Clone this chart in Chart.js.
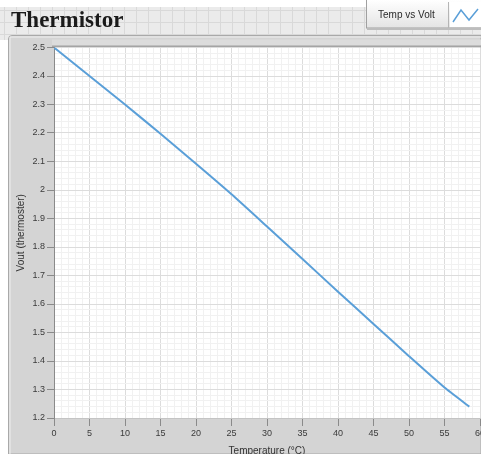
<!DOCTYPE html>
<html>
<head>
<meta charset="utf-8">
<script src="https://cdn.jsdelivr.net/npm/chart.js@4"></script>
<style>
  html, body { margin: 0; padding: 0; background: #ffffff; }
  #wrap { width: 481px; height: 454px; position: relative; }
</style>
</head>
<body>
<div id="wrap"><canvas id="thermistor"></canvas></div>
<script>
"use strict";

// values
var temperatures = [0, 5, 10, 15, 20, 25, 30, 35, 40, 45, 50, 55, 58.5];
var vout = [2.50, 2.40, 2.30, 2.197, 2.092, 1.985, 1.872, 1.758, 1.643, 1.53, 1.417, 1.307, 1.24];
var seriesName = "Temp vs Volt";
var chartTitle = "Thermistor";
var xTitle = "Temperature (\u00B0C)";
var yTitle = "Vout (thermoster)";

var points = [];
for (var i = 0; i < temperatures.length; i++) {
    points.push({ x: temperatures[i], y: vout[i] });
}

function isMajorX(v) { return Math.round(v) % 5 === 0; }
function isMajorY(v) { return Math.round(v * 50) % 5 === 0; }

// gray LabVIEW style panel + legend tab
var panelPlugin = {
    id: 'panel',
    beforeDraw: function (chart) {
        var ctx = chart.ctx;
        var w = chart.width, h = chart.height;
        var a = chart.chartArea;
        ctx.save();
        ctx.fillStyle = '#ffffff';
        ctx.fillRect(0, 0, w, h);
        // front panel grid
        ctx.fillStyle = '#ebebeb';
        ctx.fillRect(0, 7, w, 33);
        ctx.strokeStyle = '#d9d9d9';
        ctx.lineWidth = 1;
        for (var x = 4.5; x < w; x += 12) {
            ctx.beginPath(); ctx.moveTo(x, 7); ctx.lineTo(x, 40); ctx.stroke();
        }
        for (var y = 10.5; y < 40; y += 12) {
            ctx.beginPath(); ctx.moveTo(0, y); ctx.lineTo(w, y); ctx.stroke();
        }
        // panel
        ctx.fillStyle = '#d4d4d4';
        ctx.strokeStyle = '#a9a9a9';
        ctx.beginPath();
        ctx.moveTo(8.5, h);
        ctx.lineTo(8.5, 39);
        ctx.quadraticCurveTo(8.5, 35.5, 12, 35.5);
        ctx.lineTo(w, 35.5);
        ctx.lineTo(w, h);
        ctx.closePath();
        ctx.fill();
        ctx.stroke();
        ctx.strokeStyle = '#eeeeee';
        ctx.beginPath(); ctx.moveTo(10, h); ctx.lineTo(10, 37); ctx.lineTo(w, 37); ctx.stroke();
        // frame above plot
        ctx.fillStyle = '#dcdcdc';
        ctx.fillRect(a.left - 2, a.top - 8, w - a.left + 2, 6);
        ctx.fillStyle = '#a4a4a4';
        ctx.fillRect(a.left - 2, a.top - 2, w - a.left + 2, 2);
        // plot background
        ctx.fillStyle = '#ffffff';
        ctx.fillRect(a.left, a.top, a.right - a.left, a.bottom - a.top);

        // legend tab
        var tx = 366, ty = 0, tw = w - 366, th = 28;
        var g = ctx.createLinearGradient(0, ty, 0, ty + th);
        g.addColorStop(0, '#ffffff');
        g.addColorStop(1, '#e4e4e4');
        ctx.fillStyle = g;
        ctx.fillRect(tx, ty, tw, th);
        ctx.strokeStyle = '#a0a0a0';
        ctx.strokeRect(tx + 0.5, ty - 1, tw, th + 1);
        ctx.fillStyle = '#bdbdbd';
        ctx.fillRect(tx + 1, ty + th, tw, 2);
        ctx.strokeStyle = '#b5b5b5';
        ctx.beginPath(); ctx.moveTo(448.5, 2); ctx.lineTo(448.5, th); ctx.stroke();
        ctx.fillStyle = '#ffffff';
        ctx.fillRect(450, 2, w - 450, th - 3);
        ctx.fillStyle = '#2a2a2a';
        ctx.font = '10px "Liberation Sans", Arial, sans-serif';
        ctx.textBaseline = 'middle';
        ctx.fillText(seriesName, 378, 15);
        ctx.strokeStyle = '#5a9fd8';
        ctx.lineWidth = 1.5;
        ctx.beginPath();
        ctx.moveTo(453, 22); ctx.lineTo(461, 10); ctx.lineTo(469, 20); ctx.lineTo(478, 9);
        ctx.stroke();
        ctx.restore();
    }
};

new Chart(document.getElementById("thermistor").getContext("2d"), {
    type: 'line',
    data: {
        datasets: [{
            label: seriesName,
            data: points,
            borderColor: '#5a9fd8',
            borderWidth: 2,
            pointRadius: 0,
            fill: false,
            tension: 0.2
        }]
    },
    options: {
        responsive: true,
        maintainAspectRatio: false,
        animation: false,
        layout: { padding: { left: 11, right: 1, top: 0, bottom: 0 } },
        plugins: {
            legend: { display: false },
            tooltip: { enabled: false },
            title: {
                display: true,
                text: chartTitle,
                align: 'start',
                color: '#1b1b1b',
                font: { family: '"Liberation Serif", "Times New Roman", serif', size: 23, weight: 'bold', lineHeight: 1.2 },
                padding: { top: 7, bottom: 12.9 }
            }
        },
        scales: {
            x: {
                type: 'linear',
                min: 0,
                max: 60,
                afterFit: function (s) { s.height = 36; s.paddingLeft = 0; s.paddingRight = 0; },
                ticks: {
                    stepSize: 1,
                    autoSkip: false,
                    maxRotation: 0,
                    padding: 2,
                    color: '#3a3a3a',
                    font: { family: '"Liberation Sans", Arial, sans-serif', size: 9 },
                    callback: function (v) { return isMajorX(v) ? String(Math.round(v)) : ''; }
                },
                grid: {
                    tickLength: 8,
                    color: function (c) { return isMajorX(c.tick.value) ? '#dcdcdc' : '#f1f1f1'; },
                    tickColor: function (c) { return isMajorX(c.tick.value) ? '#8a8a8a' : 'rgba(0,0,0,0)'; }
                },
                border: { display: true, color: '#c4c4c4' },
                title: {
                    display: true,
                    text: xTitle,
                    color: '#333333',
                    font: { family: '"Liberation Sans", Arial, sans-serif', size: 10 },
                    padding: { top: -3, bottom: -3 }
                }
            },
            y: {
                min: 1.2,
                max: 2.5,
                afterFit: function (s) { s.width = 43; s.paddingTop = 0; s.paddingBottom = 0; },
                ticks: {
                    stepSize: 0.02,
                    autoSkip: false,
                    padding: 2,
                    color: '#3a3a3a',
                    font: { family: '"Liberation Sans", Arial, sans-serif', size: 9 },
                    callback: function (v) { return isMajorY(v) ? String(Math.round(v * 10) / 10) : ''; }
                },
                grid: {
                    tickLength: 7,
                    color: function (c) { return isMajorY(c.tick.value) ? '#dcdcdc' : '#f1f1f1'; },
                    tickColor: function (c) { return isMajorY(c.tick.value) ? '#8a8a8a' : 'rgba(0,0,0,0)'; }
                },
                border: { display: true, color: '#8a8a8a' },
                title: {
                    display: true,
                    text: yTitle,
                    color: '#333333',
                    font: { family: '"Liberation Sans", Arial, sans-serif', size: 10 },
                    padding: { top: 4, bottom: 0 }
                }
            }
        }
    },
    plugins: [panelPlugin]
});
</script>
</body>
</html>
